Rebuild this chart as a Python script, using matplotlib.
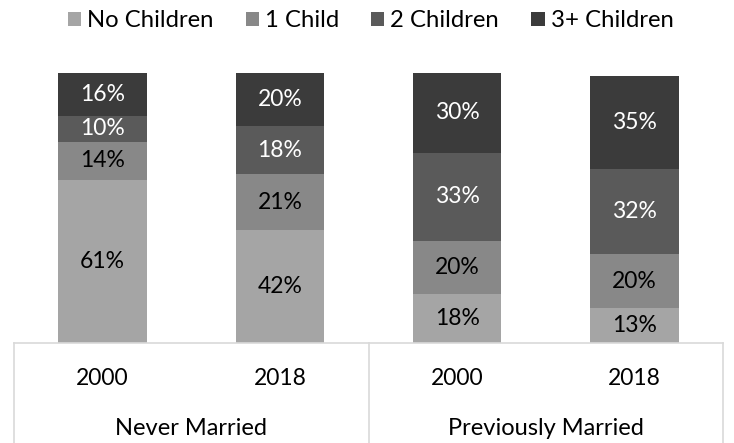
import matplotlib.pyplot as plt
import numpy as np

plt.rcParams['font.family'] = ['Lato', 'DejaVu Sans']

# data
years = ["2000", "2018", "2000", "2018"]
groups = ["Never Married", "Previously Married"]
series = ["No Children", "1 Child", "2 Children", "3+ Children"]
no_children = [61, 42, 18, 13]
one_child = [14, 21, 20, 20]
two_children = [10, 18, 33, 32]
three_plus = [16, 20, 30, 35]

colors = ["#a5a5a5", "#888888", "#5a5a5a", "#3b3b3b"]
text_colors = ["black", "black", "white", "white"]

fig = plt.figure(figsize=(7.34, 4.43), dpi=100)
ax = fig.add_axes([14 / 734, 100.5 / 443, 709 / 734, 271 / 443])

x = np.arange(len(years))
bottom = np.zeros(len(years))
for vals, col, tcol, name in zip([no_children, one_child, two_children, three_plus],
                                 colors, text_colors, series):
    vals = np.array(vals, dtype=float)
    ax.bar(x, vals, 0.5, bottom=bottom, color=col, label=name)
    for xi, b, v in zip(x, bottom, vals):
        ax.text(xi, b + v / 2, f"{int(v)}%", ha="center", va="center",
                color=tcol, fontsize=16.5)
    bottom += vals

ax.set_xlim(-0.5, 3.5)
ax.set_ylim(0, 101.5)
ax.set_yticks([])
ax.set_xticks([])
for s in ["top", "left", "right"]:
    ax.spines[s].set_visible(False)
ax.spines["bottom"].set_color("#d9d9d9")
ax.spines["bottom"].set_linewidth(1.2)

# category table lines
trans = ax.get_xaxis_transform()
for xv in [-0.5, 1.5, 3.5]:
    ax.plot([xv, xv], [0, -0.4], transform=trans, clip_on=False,
            color="#d9d9d9", lw=1.2)

for xi, yr in zip(x, years):
    ax.text(xi, -0.131, yr, transform=trans, ha="center", va="center", fontsize=16.5)
for gi, g in enumerate(groups):
    ax.text(gi * 2 + 0.5, -0.316, g, transform=trans, ha="center", va="center", fontsize=17)

fig.legend(loc="upper center", bbox_to_anchor=(0.505, 1.025), ncol=4, frameon=False,
           fontsize=17.2, handlelength=0.55, handleheight=0.55, handletextpad=0.25,
           columnspacing=1.35)

fig.savefig("out.png", dpi=100)
